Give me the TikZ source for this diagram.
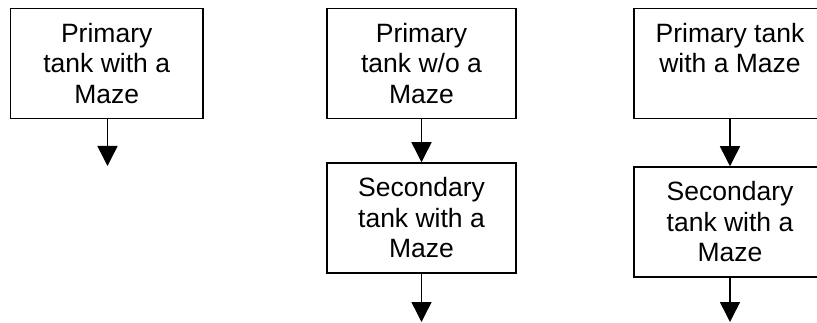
\documentclass[tikz,border=0pt]{standalone}
\usepackage{fontspec}
\setmainfont{Liberation Sans}
\usetikzlibrary{arrows.meta}
\tikzset{
  tankbox/.style={draw, line width=1.5pt, inner sep=0pt, align=center,
    minimum height=110pt, font=\fontsize{26.5}{30.5}\selectfont},
  flow/.style={line width=1.5pt, -{Triangle[width=20pt,length=20pt]}}
}
\begin{document}
\begin{tikzpicture}[x=1pt,y=-1pt]
  \useasboundingbox (0,0) rectangle (817,323);
  \clip (0,0) rectangle (817,323);
  % left column
  \node[tankbox, minimum width=192.5pt] (p1) at (106.7,63.5) {Primary\\tank with a\\Maze};
  \coordinate (o1) at (107.5,166);
  \draw[flow] (p1.south -| o1) -- (o1);
  % middle column
  \node[tankbox, minimum width=189pt] (p2) at (421.5,63.5) {Primary\\tank w/o a\\Maze};
  \node[tankbox, minimum width=189pt] (s2) at (421.5,218) {Secondary\\tank with a\\Maze};
  \coordinate (o2) at (421.5,322);
  \draw[flow] (p2.south) -- (s2.north);
  \draw[flow] (s2.south) -- (o2);
  % right column: two lines set at the top, third line left empty
  \node[tankbox, minimum width=192pt] (p3) at (730,63.5) {Primary tank\\with a Maze\\\phantom{Maze}};
  \node[tankbox, minimum width=192pt] (s3) at (730,222) {Secondary\\tank with a\\Maze};
  \coordinate (o3) at (730,322);
  \draw[flow] (p3.south) -- (s3.north);
  \draw[flow] (s3.south) -- (o3);
\end{tikzpicture}
\end{document}
